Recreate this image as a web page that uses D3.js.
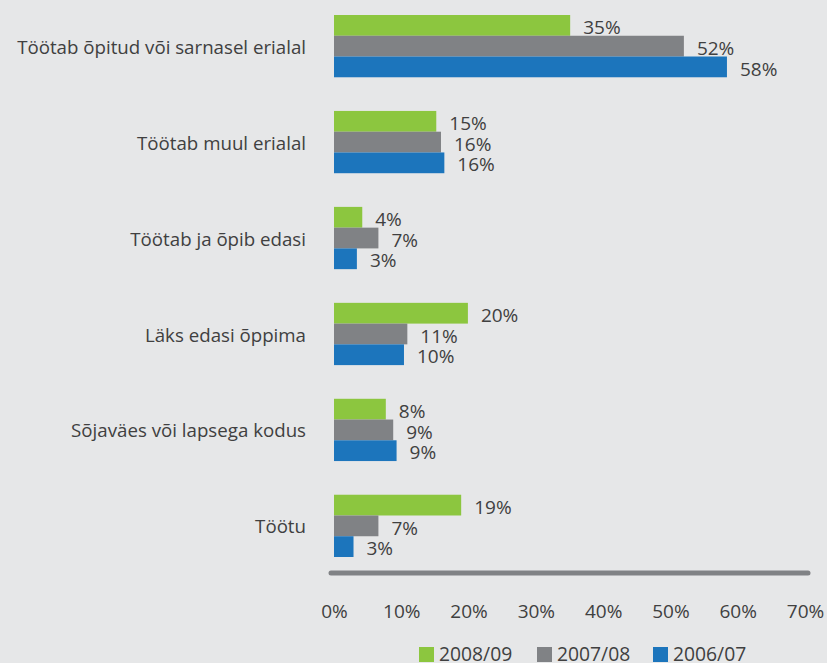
<!DOCTYPE html>
<html><head><meta charset="utf-8">
<script src="https://cdn.jsdelivr.net/npm/d3@7"></script>
<style>
html,body{margin:0;padding:0;background:#e6e7e8;}
svg{display:block;}
text{font-family:"Open Sans","Noto Sans",sans-serif;fill:#404040;}
</style></head>
<body><svg id="chart" width="827" height="663"></svg>
<script>
const categories = ["Töötab õpitud või sarnasel erialal","Töötab muul erialal","Töötab ja õpib edasi","Läks edasi õppima","Sõjaväes või lapsega kodus","Töötu"];
const seriesNames = ["2008/09","2007/08","2006/07"];
const v2008 = [35.1,15.2,4.2,19.9,7.7,18.9];
const v2007 = [52.0,15.9,6.6,10.9,8.8,6.6];
const v2006 = [58.4,16.4,3.4,10.4,9.3,2.9];
const tickValues = [0,10,20,30,40,50,60,70];
const colors = ["#8cc63f","#808285","#1c75bc"];

const series = [v2008, v2007, v2006];
const svg = d3.select("#chart");
svg.append("rect").attr("width",827).attr("height",663).attr("fill","#e6e7e8");

const x = d3.scaleLinear().domain([0,70]).range([334,805]);
const y = d3.scaleBand().domain(categories).range([15,557]).paddingInner(0.351).paddingOuter(0);
const sub = d3.scaleBand().domain(seriesNames).range([0,y.bandwidth()]);

const g = svg.append("g");
categories.forEach((c,i)=>{
  const gy = y(c);
  seriesNames.forEach((s,j)=>{
    const val = series[j][i];
    g.append("rect").attr("x",x(0)).attr("y",gy+sub(s))
      .attr("width",x(val)-x(0)).attr("height",sub.bandwidth())
      .attr("fill",colors[j]);
    g.append("text").attr("x",x(val)+13).attr("y",gy+sub(s)+sub.bandwidth()/2+2)
      .attr("dy","0.35em").attr("font-size",19).text(Math.round(val)+"%");
  });
  g.append("text").attr("x",306).attr("y",gy+y.bandwidth()/2+1).attr("dy","0.35em")
    .attr("text-anchor","end").attr("font-size",18.7).text(c);
});

svg.append("line").attr("x1",331).attr("x2",808).attr("y1",573).attr("y2",573)
  .attr("stroke","#808285").attr("stroke-width",5).attr("stroke-linecap","round");

const axis = d3.axisBottom(x).tickValues(tickValues).tickFormat(d=>d+"%").tickSize(0).tickPadding(0);
const ax = svg.append("g").call(axis);
ax.select(".domain").remove();
ax.selectAll("text").attr("y",611).attr("dy","0.35em").attr("font-size",19)
  .attr("font-family","'Open Sans','Noto Sans',sans-serif").attr("fill","#404040");

const legX = [419,537,653];
seriesNames.forEach((s,j)=>{
  svg.append("rect").attr("x",legX[j]).attr("y",647).attr("width",15).attr("height",15).attr("fill",colors[j]);
  svg.append("text").attr("x",legX[j]+20).attr("y",654.5).attr("dy","0.35em").attr("font-size",19.3).text(s);
});
</script></body></html>
